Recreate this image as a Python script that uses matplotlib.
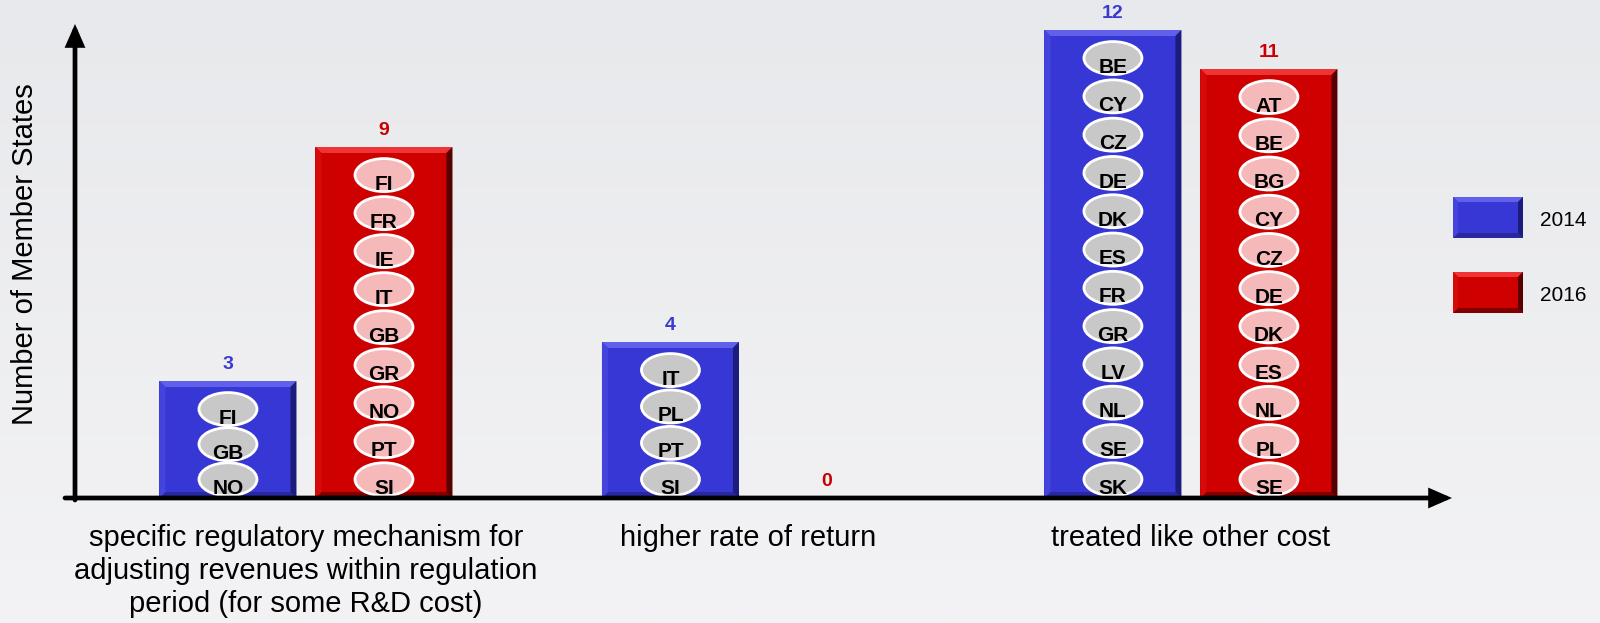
import numpy as np
import matplotlib
matplotlib.use("Agg")
import matplotlib.pyplot as plt
from matplotlib.patches import Rectangle, Polygon, Ellipse

# ---------------- data ----------------
categories = [
    "specific regulatory mechanism for\nadjusting revenues within regulation\nperiod (for some R&D cost)",
    "higher rate of return",
    "treated like other cost",
]
series_names = ["2014", "2016"]
values_2014 = [3, 4, 12]
values_2016 = [9, 0, 11]
countries_2014 = [
    ["FI", "GB", "NO"],
    ["IT", "PL", "PT", "SI"],
    ["BE", "CY", "CZ", "DE", "DK", "ES", "FR", "GR", "LV", "NL", "SE", "SK"],
]
countries_2016 = [
    ["FI", "FR", "IE", "IT", "GB", "GR", "NO", "PT", "SI"],
    [],
    ["AT", "BE", "BG", "CY", "CZ", "DE", "DK", "ES", "NL", "PL", "SE"],
]
y_label = "Number of Member States"

# ---------------- style ----------------
plt.rcParams["font.family"] = ["Liberation Sans", "DejaVu Sans"]
W, H = 1600, 623
fig = plt.figure(figsize=(16, 6.23), dpi=100)

# background gradient
bg = fig.add_axes([0, 0, 1, 1], zorder=-10)
grad = np.linspace(0, 1, 256).reshape(-1, 1)
top_c = np.array([0xe8, 0xe9, 0xec]) / 255
bot_c = np.array([0xf3, 0xf3, 0xf5]) / 255
img = top_c[None, None, :] * (1 - grad[:, :, None]) + bot_c[None, None, :] * grad[:, :, None]
bg.imshow(img, aspect="auto", extent=[0, 1, 0, 1])
bg.axis("off")

# main axes (pixel layout)
ax_l, ax_r, ax_t, ax_b = 75, 1452, 24, 498
ax = fig.add_axes([ax_l / W, 1 - ax_b / H, (ax_r - ax_l) / W, (ax_b - ax_t) / H])
ax.patch.set_visible(False)
ax.axis("off")
xmin, xmax = -0.522, 2.590
ymax = (ax_b - ax_t) / 39.0
ax.set_xlim(xmin, xmax)
ax.set_ylim(0, ymax)
pxx = (ax_r - ax_l) / (xmax - xmin)
pxy = (ax_b - ax_t) / ymax

styles = {
    "2014": dict(base="#3737d6", light="#6060ea", left="#4444dd", right="#1c1c7c",
                 bottom="#2828a0", ell="#c8c8c8", label="#3a3ad0"),
    "2016": dict(base="#cf0000", light="#ee3434", left="#d60a0a", right="#560000",
                 bottom="#800000", ell="#f6b9b9", label="#c80000"),
}


def bevel_box(a, x0, y0, w, h, bx, by, st, z=2):
    a.add_patch(Rectangle((x0, y0), w, h, fc=st["base"], ec="none", zorder=z))
    x1, y1 = x0 + w, y0 + h
    a.add_patch(Polygon([(x0, y1), (x1, y1), (x1 - bx, y1 - by), (x0 + bx, y1 - by)],
                        fc=st["light"], ec="none", zorder=z))
    a.add_patch(Polygon([(x0, y0), (x1, y0), (x1 - bx, y0 + by), (x0 + bx, y0 + by)],
                        fc=st["bottom"], ec="none", zorder=z))
    a.add_patch(Polygon([(x0, y0), (x0, y1), (x0 + bx, y1 - by), (x0 + bx, y0 + by)],
                        fc=st["left"], ec="none", zorder=z))
    a.add_patch(Polygon([(x1, y0), (x1, y1), (x1 - bx, y1 - by), (x1 - bx, y0 + by)],
                        fc=st["right"], ec="none", zorder=z))


x = np.arange(len(categories))
bar_w = 137 / pxx
offset = 78 / pxx
ell_w = 58 / pxx
ell_h = 33 / pxy

for series, vals, ctry, sign in [("2014", values_2014, countries_2014, -1),
                                 ("2016", values_2016, countries_2016, 1)]:
    st = styles[series]
    for i, v in enumerate(vals):
        xc = x[i] + sign * offset
        if v > 0:
            bevel_box(ax, xc - bar_w / 2, 0, bar_w, v, 6 / pxx, 6 / pxy, st)
        names = ctry[i]
        n = len(names)
        pitch = (n - 1.2) / (n - 1) if n > 1 else 1.0
        for j, name in enumerate(reversed(names)):
            yc = 0.48 + j * pitch
            ax.add_patch(Ellipse((xc, yc), ell_w, ell_h, fc=st["ell"], ec="white",
                                 lw=2, zorder=3))
            ax.annotate(name, (xc, yc), xytext=(0, -10.5), textcoords="offset points",
                        ha="center", va="baseline", fontsize=15, fontweight="bold",
                        color="black", zorder=4)
        ax.annotate(str(v), (xc, v), xytext=(0, 8.5), textcoords="offset points",
                    ha="center", va="baseline", fontsize=14, fontweight="bold",
                    color=st["label"], zorder=4)

# axis arrows
arrow = dict(arrowstyle="-|>,head_length=0.8,head_width=0.35", lw=3.4, color="black",
             shrinkA=0, shrinkB=0, mutation_scale=14, joinstyle="miter")
ax.annotate("", xy=(1, 0), xytext=(-10 / (ax_r - ax_l), 0), xycoords="axes fraction",
            arrowprops=arrow, annotation_clip=False, zorder=6)
ax.annotate("", xy=(0, 1), xytext=(0, -2 / (ax_b - ax_t)), xycoords="axes fraction",
            arrowprops=arrow, annotation_clip=False, zorder=6)

# category labels
for i, lab in enumerate(categories):
    ax.annotate(lab, (x[i], 0), xycoords=("data", "axes fraction"), xytext=(0, -19),
                textcoords="offset points", ha="center", va="top", multialignment="center",
                fontsize=21, linespacing=1.22, color="black", annotation_clip=False)

# y label
fig.text(25 / W, 1 - 254 / H, y_label, rotation=90, ha="center", va="center",
         fontsize=21, color="black")

# legend
lax = fig.add_axes([0, 0, 1, 1], zorder=5)
lax.set_xlim(0, W)
lax.set_ylim(0, H)
lax.axis("off")
for k, (series, top_px) in enumerate(zip(series_names, [197, 272])):
    st = styles[series]
    bevel_box(lax, 1453, H - top_px - 41, 70, 41, 5, 5, st)
    lax.text(1540, H - top_px - 20.5 - 3, series, ha="left", va="center", fontsize=15,
             color="black")

fig.savefig("out.png", dpi=100)
